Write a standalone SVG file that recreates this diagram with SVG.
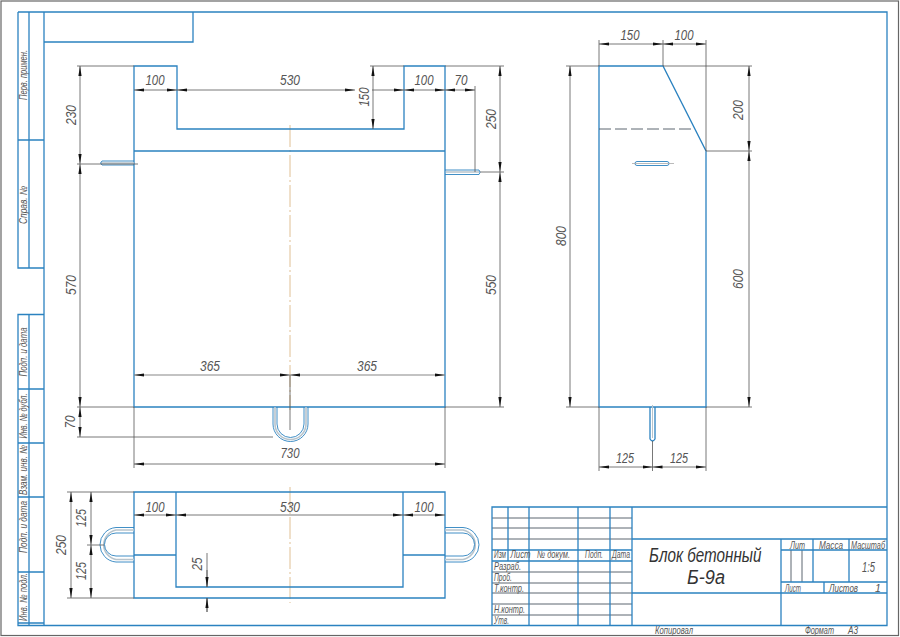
<svg xmlns="http://www.w3.org/2000/svg" width="900" height="637" viewBox="0 0 900 637">
<style>
.b{fill:none;stroke:#2b82c0;stroke-width:1.3}
.bt{fill:none;stroke:#2b82c0;stroke-width:.9}
.k{fill:none;stroke:#4a5560;stroke-width:.9}
.d{fill:none;stroke:#555;stroke-width:.8}
.a{fill:none;stroke:#555;stroke-width:.8;marker-start:url(#ar);marker-end:url(#ar)}
.e{fill:none;stroke:#555;stroke-width:.8;marker-end:url(#ar)}
.c{fill:none;stroke:#d8b078;stroke-width:.8;stroke-dasharray:22 3 2 3}
.g{fill:none;stroke:#b8c4cc;stroke-width:1.6}
text{font-family:"Liberation Sans",sans-serif;font-style:italic;fill:#555}
.t{font-size:15.500px;text-anchor:middle}
.s{font-size:10.500px}
.m{font-size:10.500px;text-anchor:middle}
</style>
<defs>
<marker id="ar" markerUnits="userSpaceOnUse" markerWidth="12" markerHeight="6" refX="10" refY="3" orient="auto-start-reverse"><path d="M10 3 0 1.400V4.600Z" fill="#111"/></marker>
</defs>
<rect x="1" y="1" width="897.500" height="634.500" fill="#fff" stroke="#666" stroke-width="1.200"/>
<g id="frame">
<path class="b" d="M18 12H887V625.500H18V314.500H44M18 12V268H44M44 12V625.500M29 12V268M29 314.500V625.500M18 140H44M18 389H44M18 443H44M18 497H44M18 572H44M18 623H44"/>
<path class="b" d="M44 42H193V12"/>
<text class="m" transform="translate(27 75) rotate(-90)" textLength="50" lengthAdjust="spacingAndGlyphs">Перв. примен.</text>
<text class="m" transform="translate(27 205) rotate(-90)" textLength="38" lengthAdjust="spacingAndGlyphs">Справ. №</text>
<text class="m" transform="translate(27 352) rotate(-90)" textLength="49" lengthAdjust="spacingAndGlyphs">Подп. и дата</text>
<text class="m" transform="translate(27 416) rotate(-90)" textLength="45" lengthAdjust="spacingAndGlyphs">Инв. № дубл.</text>
<text class="m" transform="translate(27 470) rotate(-90)" textLength="50" lengthAdjust="spacingAndGlyphs">Взам. инв. №</text>
<text class="m" transform="translate(27 527) rotate(-90)" textLength="52" lengthAdjust="spacingAndGlyphs">Подп. и дата</text>
<text class="m" transform="translate(27 597) rotate(-90)" textLength="48" lengthAdjust="spacingAndGlyphs">Инв. № подл.</text>
</g>
<g id="front-view">
<line class="c" x1="290" y1="125" x2="290" y2="410"/>
<path class="b" d="M134 407V66H177V129H404V66H445V407ZM134 151H445"/>
<g id="front-handles">
<path class="g" d="M101 163H134M446 172H479"/>
<path class="bt" d="M134 161H102Q99 163 102 165H134M445 170H479Q481 172 479 174.500H445"/>
<path class="g" d="M275 407V424A15.500 15.500 0 0 0 306 424V407"/>
<path class="bt" d="M273 407V424A17.500 17.500 0 0 0 308 424V407M277 407V424A13.500 13.500 0 0 0 304 424V407"/>
</g>
<g id="front-dims">
<path class="d" d="M77 66H134M77 164H138M77 407H134M77 437H273M370 66H404M445 66H504M480 172H504M445 407H504M134 407V468M445 407V468M475 86V172M290 375V430"/>
<path class="a" d="M80 66V164"/><path class="a" d="M80 164V407"/><path class="a" d="M80 407V437"/>
<path class="a" d="M134 90H177"/><path class="a" d="M177 90H355"/><path class="e" d="M372 90H404"/><path class="a" d="M404 90H445"/><path class="a" d="M445 90H475"/>
<path class="a" d="M373 66V129"/><path class="a" d="M500 66V172"/><path class="a" d="M500 172V407"/>
<path class="a" style="stroke:#888;stroke-width:1.100" d="M134 375H290"/><path class="a" style="stroke:#888;stroke-width:1.100" d="M290 375H445"/>
<path class="a" d="M134 464H445"/>
<text class="t" x="155" y="85" textLength="19" lengthAdjust="spacingAndGlyphs">100</text>
<text class="t" x="290" y="85" textLength="20" lengthAdjust="spacingAndGlyphs">530</text>
<text class="t" x="424" y="85" textLength="19" lengthAdjust="spacingAndGlyphs">100</text>
<text class="t" x="461" y="85" textLength="13" lengthAdjust="spacingAndGlyphs">70</text>
<text class="t" transform="translate(369 97) rotate(-90)" textLength="19" lengthAdjust="spacingAndGlyphs">150</text>
<text class="t" transform="translate(496 119) rotate(-90)" textLength="20" lengthAdjust="spacingAndGlyphs">250</text>
<text class="t" transform="translate(496 285) rotate(-90)" textLength="20" lengthAdjust="spacingAndGlyphs">550</text>
<text class="t" transform="translate(76 115) rotate(-90)" textLength="20" lengthAdjust="spacingAndGlyphs">230</text>
<text class="t" transform="translate(76 285) rotate(-90)" textLength="20" lengthAdjust="spacingAndGlyphs">570</text>
<text class="t" transform="translate(75 422) rotate(-90)" textLength="13" lengthAdjust="spacingAndGlyphs">70</text>
<text class="t" x="210" y="371" textLength="20" lengthAdjust="spacingAndGlyphs">365</text>
<text class="t" x="367" y="371" textLength="20" lengthAdjust="spacingAndGlyphs">365</text>
<text class="t" x="290" y="458" textLength="19" lengthAdjust="spacingAndGlyphs">730</text>
</g>
</g>
<g id="side-view">
<path class="b" d="M599 407V66H663L706 151V407Z"/>
<path class="k" d="M599 129H695" stroke-dasharray="12 4"/>
<rect class="bt" x="635" y="161.500" width="34" height="4" rx="2"/>
<path class="d" d="M632 163.500H674" style="stroke:#aaa"/>
<path class="b" d="M650 407V439Q652.500 443 655 439V407"/>
<path class="g" d="M652.500 405V438" style="stroke-width:1"/>
<g id="side-dims">
<path class="d" d="M599 40V66M663 40V66M706 40V151M566 66H599M663 66H752M706 151H752M566 407H599M706 407H752M599 407V471M652.500 441V471M706 407V471"/>
<path class="a" d="M599 44H663"/><path class="a" d="M663 44H706"/>
<path class="a" d="M570 66V407"/><path class="a" d="M749 66V151"/><path class="a" d="M749 151V407"/>
<path class="a" d="M599 467H652.500"/><path class="a" d="M652.500 467H706"/>
<text class="t" x="630" y="40" textLength="19" lengthAdjust="spacingAndGlyphs">150</text>
<text class="t" x="684" y="40" textLength="19" lengthAdjust="spacingAndGlyphs">100</text>
<text class="t" transform="translate(566 236) rotate(-90)" textLength="20" lengthAdjust="spacingAndGlyphs">800</text>
<text class="t" transform="translate(743 110) rotate(-90)" textLength="20" lengthAdjust="spacingAndGlyphs">200</text>
<text class="t" transform="translate(743 279) rotate(-90)" textLength="20" lengthAdjust="spacingAndGlyphs">600</text>
<text class="t" x="625" y="463" textLength="18" lengthAdjust="spacingAndGlyphs">125</text>
<text class="t" x="679" y="463" textLength="18" lengthAdjust="spacingAndGlyphs">125</text>
</g>
</g>
<g id="plan-view">
<line class="c" x1="290" y1="487" x2="290" y2="603"/>
<path class="b" d="M134 492H445V598H134ZM176 492V587H403V492M134 555H176M403 555H445"/>
<g id="plan-handles">
<path class="g" d="M134 530H116A15 15 0 0 0 116 559.500H134M445 530H463A15 15 0 0 1 463 559.500H445"/>
<path class="bt" d="M134 527.500H116A17.300 17.300 0 0 0 116 562H134M134 533H116A11.500 11.500 0 0 0 116 556H134M445 527.500H463A17.300 17.300 0 0 1 463 562H445M445 533H463A11.500 11.500 0 0 1 463 556H445"/>
</g>
<g id="plan-dims">
<path class="d" d="M67 492H134M67 598H134M87 545H104M207 553V587M207 598V612"/>
<path class="a" d="M71 492V598"/><path class="a" d="M91 492V545"/><path class="a" d="M91 545V598"/>
<path class="a" d="M134 515H176"/><path class="a" d="M176 515H403"/><path class="a" d="M403 515H445"/>
<path class="e" d="M207 570V587"/><path class="e" d="M207 612V598"/>
<text class="t" x="155" y="512" textLength="19" lengthAdjust="spacingAndGlyphs">100</text>
<text class="t" x="290" y="512" textLength="20" lengthAdjust="spacingAndGlyphs">530</text>
<text class="t" x="424" y="512" textLength="19" lengthAdjust="spacingAndGlyphs">100</text>
<text class="t" transform="translate(66 545) rotate(-90)" textLength="20" lengthAdjust="spacingAndGlyphs">250</text>
<text class="t" transform="translate(86 518) rotate(-90)" textLength="18" lengthAdjust="spacingAndGlyphs">125</text>
<text class="t" transform="translate(86 571) rotate(-90)" textLength="18" lengthAdjust="spacingAndGlyphs">125</text>
<text class="t" transform="translate(202 564) rotate(-90)" textLength="13" lengthAdjust="spacingAndGlyphs">25</text>
</g>
</g>
<g id="title-block">
<path class="k" d="M492 518H632M492 528H632M492 539H632M492 572H632M492 583H632M492 593H632M492 604H632M492 615H632M791 550V582M802 550V582"/>
<path class="b" d="M492 625V507H887M492 550H632M492 561H632M508 507V561M529 507V625M578 507V625M610 507V625M632 507V625M632 539H887M632 593H887M781 539V625M781 550H887M781 582H887M813 539V582M849 539V582M824 582V593"/>
<text class="s" transform="translate(494 558) scale(.62 1)">Изм</text>
<text class="s" transform="translate(510.500 558) scale(.74 1)">Лист</text>
<text class="s" x="537" y="558" textLength="33" lengthAdjust="spacingAndGlyphs">№ докум.</text>
<text class="s" x="585" y="558" textLength="18" lengthAdjust="spacingAndGlyphs">Подп.</text>
<text class="s" x="612" y="558" textLength="18" lengthAdjust="spacingAndGlyphs">Дата</text>
<text class="s" x="494" y="570" textLength="27" lengthAdjust="spacingAndGlyphs">Разраб.</text>
<text class="s" x="494" y="581" textLength="18" lengthAdjust="spacingAndGlyphs">Проб.</text>
<text class="s" x="494" y="592" textLength="30" lengthAdjust="spacingAndGlyphs">Т.контр.</text>
<text class="s" x="494" y="613" textLength="31" lengthAdjust="spacingAndGlyphs">Н.контр.</text>
<text class="s" x="494" y="624" textLength="15" lengthAdjust="spacingAndGlyphs">Утв.</text>
<text style="font-size:20px;fill:#333" transform="translate(649 562) scale(.76 1)">Блок бетонный</text>
<text style="font-size:20px;fill:#333" x="687" y="584" textLength="38" lengthAdjust="spacingAndGlyphs">Б-9а</text>
<text class="s" x="790" y="549" textLength="15" lengthAdjust="spacingAndGlyphs">Лит</text>
<text class="s" x="819" y="549" textLength="24" lengthAdjust="spacingAndGlyphs">Масса</text>
<text class="s" x="851" y="549" textLength="34" lengthAdjust="spacingAndGlyphs">Масштаб</text>
<text x="862" y="572" style="font-size:14px" textLength="13" lengthAdjust="spacingAndGlyphs">1:5</text>
<text class="s" x="785" y="592" textLength="16" lengthAdjust="spacingAndGlyphs">Лист</text>
<text class="s" x="829" y="592" textLength="29" lengthAdjust="spacingAndGlyphs">Листов</text>
<text class="s" x="875" y="592">1</text>
<text class="s" x="655" y="634" textLength="38" lengthAdjust="spacingAndGlyphs">Копировал</text>
<text class="s" x="805" y="634" textLength="29" lengthAdjust="spacingAndGlyphs">Формат</text>
<text class="s" x="848" y="634" textLength="10" lengthAdjust="spacingAndGlyphs">А3</text>
</g>
</svg>
